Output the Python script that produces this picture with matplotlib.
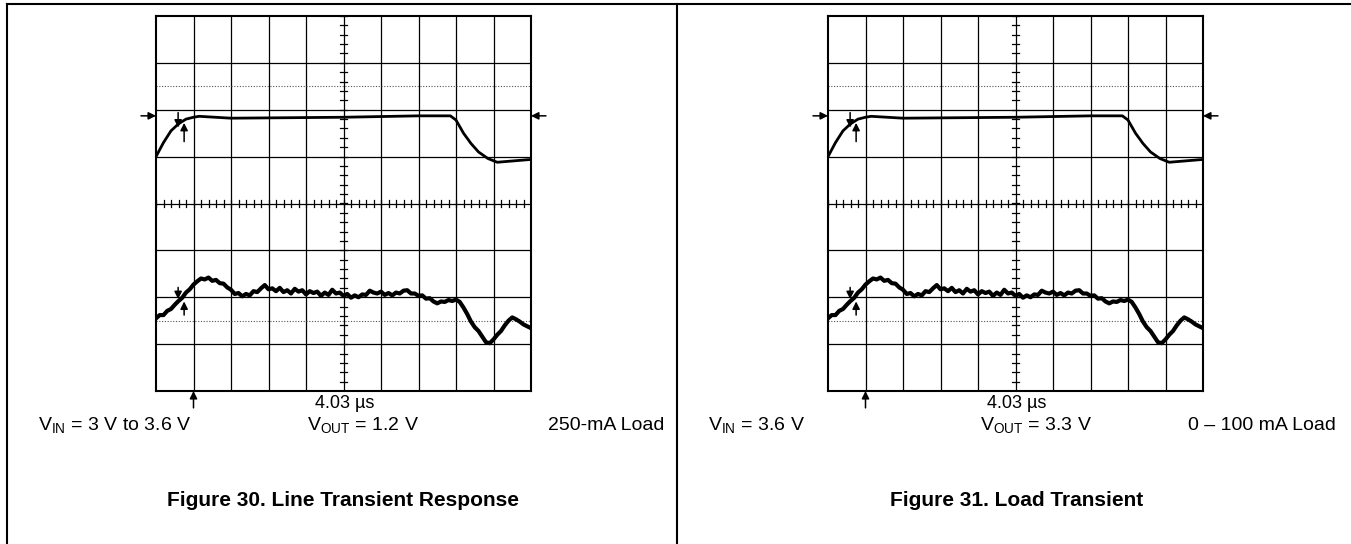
import numpy as np
import matplotlib
matplotlib.use("Agg")
import matplotlib.pyplot as plt

plt.rcParams['font.family'] = ['Liberation Sans', 'DejaVu Sans']
plt.rcParams['mathtext.fontset'] = 'custom'
plt.rcParams['mathtext.rm'] = 'Liberation Sans'
plt.rcParams['mathtext.it'] = 'Liberation Sans'

# 上側の波形（滑らか）: 横軸=div, 縦軸=div（中心0）
top_x = [0.0, 0.2, 0.4, 0.6, 0.8, 1.0, 1.15, 2.0, 5.0, 7.0, 7.85, 8.0, 8.2, 8.4, 8.6, 8.85, 9.1, 10.0]
top_y = [1.0, 1.3, 1.55, 1.7, 1.8, 1.84, 1.86, 1.82, 1.84, 1.87, 1.87, 1.78, 1.5, 1.28, 1.1, 0.96, 0.88, 0.94]

# 下側の波形（ノイズあり）
bot_x = [i / 10 for i in range(101)]
bot_y = [-2.45, -2.38, -2.38, -2.29, -2.25, -2.16, -2.08, -2.01, -1.90, -1.83,
         -1.73, -1.66, -1.60, -1.62, -1.58, -1.65, -1.63, -1.70, -1.71, -1.79,
         -1.84, -1.93, -1.91, -1.98, -1.93, -1.96, -1.87, -1.89, -1.81, -1.74,
         -1.83, -1.81, -1.87, -1.80, -1.89, -1.85, -1.92, -1.82, -1.88, -1.85,
         -1.94, -1.87, -1.91, -1.88, -1.97, -1.90, -1.95, -1.84, -1.92, -1.90,
         -1.97, -1.93, -2.01, -1.96, -2.00, -1.94, -1.95, -1.86, -1.90, -1.92,
         -1.88, -1.95, -1.91, -1.96, -1.90, -1.92, -1.86, -1.85, -1.92, -1.92,
         -1.97, -1.96, -2.03, -2.02, -2.09, -2.13, -2.09, -2.10, -2.06, -2.08,
         -2.05, -2.10, -2.22, -2.36, -2.52, -2.64, -2.72, -2.84, -2.96, -2.98,
         -2.90, -2.80, -2.72, -2.60, -2.50, -2.43, -2.47, -2.52, -2.58, -2.62,
         -2.66]

time_label = "4.03 µs"
panel_left = ["V$_{\\rm IN}$ = 3 V to 3.6 V", "V$_{\\rm OUT}$ = 1.2 V", "250-mA Load"]
panel_right = ["V$_{\\rm IN}$ = 3.6 V", "V$_{\\rm OUT}$ = 3.3 V", "0 – 100 mA Load"]
titles = ["Figure 30. Line Transient Response", "Figure 31. Load Transient"]

W, H = 1351, 544
fig = plt.figure(figsize=(W / 100, H / 100), dpi=100)

# 枠線とテキスト用の全体軸（ピクセル座標）
bg = fig.add_axes([0, 0, 1, 1])
bg.set_xlim(0, W)
bg.set_ylim(H, 0)
bg.axis('off')
bg.plot([7, W], [4, 4], color='black', lw=1.5)
bg.plot([7, 7], [4, H], color='black', lw=1.5)
bg.plot([677, 677], [4, H], color='black', lw=1.5)


def scope(x0, texts, title, cx):
    ax = fig.add_axes([x0 / W, (H - 391) / H, 375 / W, 375 / H])
    ax.set_xlim(0, 10)
    ax.set_ylim(-4, 4)
    ax.set_xticks([])
    ax.set_yticks([])
    for s in ax.spines.values():
        s.set_linewidth(1.5)
    for i in range(1, 10):
        ax.axvline(i, color='black', lw=0.9)
    for j in range(-3, 4):
        ax.axhline(j, color='black', lw=0.9)
    ax.axhline(2.5, color='#555555', lw=0.8, ls=(0, (1, 1.5)))
    ax.axhline(-2.5, color='#555555', lw=0.8, ls=(0, (1, 1.5)))
    # 中心軸の細かい目盛り
    for k in np.arange(-4, 4.01, 0.2):
        ax.plot([4.9, 5.1], [k, k], color='black', lw=0.9)
    for k in np.arange(0, 10.01, 0.2):
        ax.plot([k, k], [-0.08, 0.08], color='black', lw=0.9)

    ax.plot(top_x, top_y, color='black', lw=2.0, solid_joinstyle='round')
    ax.plot(bot_x, bot_y, color='black', lw=3.0, solid_joinstyle='round')

    ap = dict(arrowstyle='-|>', color='black', lw=1.1, mutation_scale=11,
              shrinkA=0, shrinkB=0)
    # 左右のレベルマーカー
    ax.annotate('', xy=(0, 1.87), xytext=(-0.4, 1.87), arrowprops=ap, annotation_clip=False)
    ax.annotate('', xy=(10, 1.87), xytext=(10.4, 1.87), arrowprops=ap, annotation_clip=False)
    # カーソル
    ax.annotate('', xy=(0.59, 1.62), xytext=(0.59, 1.94), arrowprops=ap)
    ax.annotate('', xy=(0.75, 1.72), xytext=(0.75, 1.32), arrowprops=ap)
    ax.annotate('', xy=(0.59, -2.04), xytext=(0.59, -1.79), arrowprops=ap)
    ax.annotate('', xy=(0.75, -2.09), xytext=(0.75, -2.38), arrowprops=ap)
    ax.annotate('', xy=(1.0, -4.0), xytext=(1.0, -4.36), arrowprops=ap, annotation_clip=False)

    bg.text(x0 + 189, 404, time_label, ha='center', va='center', fontsize=13)
    bg.text(texts[0][1], 425, texts[0][0], ha='left', va='center', fontsize=14)
    bg.text(texts[1][1], 425, texts[1][0], ha='left', va='center', fontsize=14)
    bg.text(texts[2][1], 425, texts[2][0], ha='right', va='center', fontsize=14)
    bg.text(cx, 500, title, ha='center', va='center', fontsize=15, fontweight='bold')


scope(156, [(panel_left[0], 38), (panel_left[1], 307), (panel_left[2], 664)], titles[0], 343)
scope(828, [(panel_right[0], 708), (panel_right[1], 980), (panel_right[2], 1336)], titles[1], 1017)

fig.savefig('out.png', dpi=100)
